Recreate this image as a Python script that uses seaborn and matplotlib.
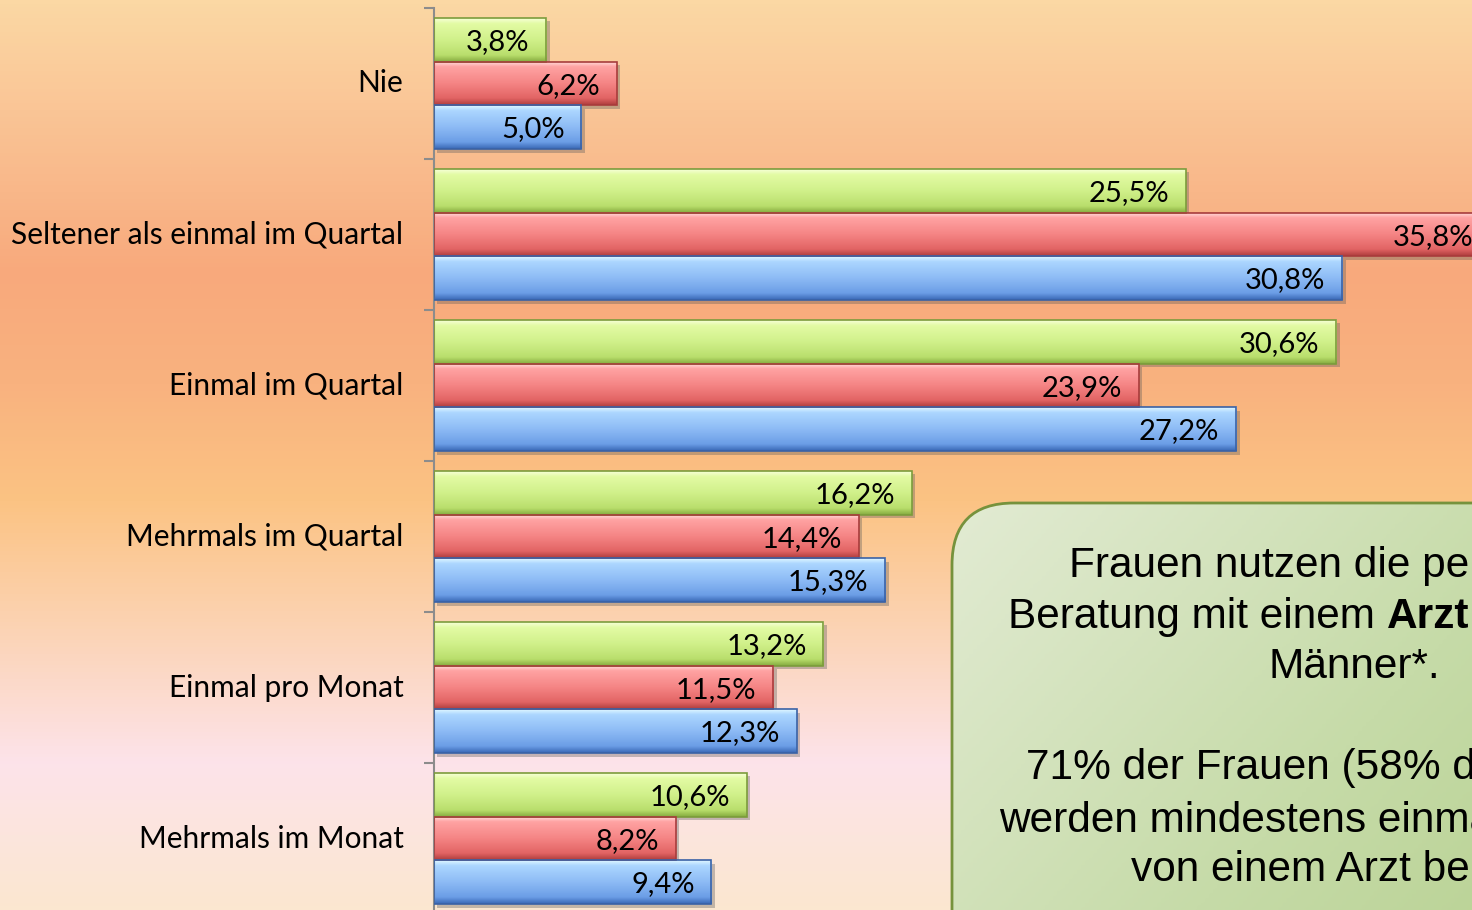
import numpy as np
import pandas as pd
import seaborn as sns
import matplotlib.pyplot as plt
import matplotlib.patheffects as pe
from matplotlib.colors import LinearSegmentedColormap
from matplotlib.patches import FancyBboxPatch, Rectangle

# data (percent)
categories = ["Nie", "Seltener als einmal im Quartal", "Einmal im Quartal",
              "Mehrmals im Quartal", "Einmal pro Monat", "Mehrmals im Monat"]
groups = ["Frauen", "Männer", "Gesamt"]
frauen = [3.8, 25.5, 30.6, 16.2, 13.2, 10.6]
maenner = [6.2, 35.8, 23.9, 14.4, 11.5, 8.2]
gesamt = [5.0, 30.8, 27.2, 15.3, 12.3, 9.4]

df = pd.DataFrame({
    "Kategorie": categories * 3,
    "Gruppe": np.repeat(groups, len(categories)),
    "Wert": frauen + maenner + gesamt,
})

base_colors = {"Frauen": "#cdee84", "Männer": "#f48383", "Gesamt": "#8cbcf6"}
bar_grads = {
    "Frauen": ["#f6ffd6", "#e3fba4", "#d0f08a", "#b9de6c", "#86ac40"],
    "Männer": ["#ffe0e0", "#ffa3a3", "#f58585", "#e26464", "#b03e3e"],
    "Gesamt": ["#dff7ff", "#acd6ff", "#8dbbf5", "#6b9de6", "#3a69b6"],
}
edge_colors = {"Frauen": "#7c9c3c", "Männer": "#a83c3c", "Gesamt": "#3a62a6"}

sns.set_theme(style="white")
plt.rcParams["font.family"] = ["Lato", "DejaVu Sans"]

W, H = 1472, 910
fig = plt.figure(figsize=(W / 100, H / 100), dpi=100)

# background gradient
bg = fig.add_axes([0, 0, 1, 1], zorder=0)
bg_cmap = LinearSegmentedColormap.from_list("bg", [
    (0.0, "#fbd8a4"), (0.12, "#fac596"), (0.3, "#f8a97c"), (0.42, "#f9b27f"),
    (0.55, "#fbc383"), (0.68, "#fbd2b0"), (0.84, "#fde3ea"), (1.0, "#fbe7d0")])
bg.imshow(np.linspace(0, 1, 256)[:, None], aspect="auto", cmap=bg_cmap,
          extent=[0, 1, 0, 1], origin="upper")
bg.set_axis_off()

ax = fig.add_axes([434 / W, -4 / H, 1038 / W, 906 / H], zorder=1)
ax.set_facecolor("none")
sns.barplot(data=df, y="Kategorie", x="Wert", hue="Gruppe", order=categories,
            hue_order=groups, palette=base_colors, width=0.87, orient="h",
            legend=False, ax=ax, errorbar=None)

for cont, g in zip(ax.containers, groups):
    cmap = LinearSegmentedColormap.from_list(g, list(zip([0, 0.12, 0.5, 0.85, 1.0], bar_grads[g])))
    for patch, v in zip(cont, df.loc[df["Gruppe"] == g, "Wert"]):
        x0, y0, w, h = patch.get_x(), patch.get_y(), patch.get_width(), patch.get_height()
        patch.set_edgecolor("none")
        patch.set_zorder(1)
        patch.set_path_effects([pe.SimplePatchShadow(offset=(2.5, -2.5), shadow_rgbFace="0.35", alpha=0.35),
                                pe.Normal()])
        im = ax.imshow(np.linspace(0, 1, 64)[:, None], cmap=cmap, aspect="auto",
                       extent=[x0, x0 + w, y0 + h, y0], origin="upper", zorder=2)
        im.set_clip_path(patch)
        ax.add_patch(Rectangle((x0, y0), w, h, facecolor="none",
                               edgecolor=edge_colors[g], lw=1.2, zorder=3))
        ax.annotate(f"{v:.1f}".replace(".", ",") + "%", xy=(x0 + w, y0 + h / 2),
                    xytext=(-12, -1.5), textcoords="offset points", ha="right",
                    va="center", fontsize=21, color="black", zorder=4,
                    annotation_clip=False)

ax.set_xlim(0, 1038 / 29.49)
ax.set_ylim(len(categories) - 0.5, -0.5)
ax.set_xlabel("")
ax.set_ylabel("")
ax.set_xticks([])
ax.set_yticks(range(len(categories)))
ax.set_yticklabels(categories, fontsize=21.5, color="black", va="center")
ax.set_yticks(np.arange(-0.5, len(categories), 1), minor=True)
ax.tick_params(axis="y", which="major", length=0, pad=22)
ax.tick_params(axis="y", which="minor", length=7, width=1.5, color="#8c8c8c", left=True)
for s in ["top", "right", "bottom"]:
    ax.spines[s].set_visible(False)
ax.spines["left"].set_color("#8c8c8c")
ax.spines["left"].set_linewidth(1.5)

# text box overlay in pixel coordinates
ov = fig.add_axes([0, 0, 1, 1], zorder=3)
ov.set_xlim(0, W)
ov.set_ylim(H, 0)
ov.set_axis_off()
ov.patch.set_alpha(0)
box = FancyBboxPatch((952, 503), 804, 470, boxstyle="round,pad=0,rounding_size=62",
                     facecolor="none", edgecolor="#76923c", lw=2, zorder=3)
ov.add_patch(box)
gx, gy = np.meshgrid(np.linspace(0, 1, 200), np.linspace(0, 1, 200))
box_cmap = LinearSegmentedColormap.from_list("box", ["#e2ebd3", "#c6dba8", "#b0cc86"])
gim = ov.imshow(0.65 * gx + 0.35 * gy, cmap=box_cmap, aspect="auto",
                extent=[952, 1756, 973, 503], origin="upper", zorder=2)
gim.set_clip_path(box)
ov.set_xlim(0, W)
ov.set_ylim(H, 0)

tfont = dict(family=["Liberation Sans", "DejaVu Sans"], fontsize=30.5, color="black")
cx = 1354
ov.text(cx, 577, "Frauen nutzen die persönliche", ha="center", va="baseline", **tfont)
ov.text(cx, 678, "Männer*.", ha="center", va="baseline", **tfont)
ov.text(cx, 779, "71% der Frauen (58% der Männer)", ha="center", va="baseline", **tfont)
ov.text(cx, 831, "werden mindestens einmal im Quartal", ha="center", va="baseline", **tfont)
ov.text(cx, 881, "von einem Arzt beraten.", ha="center", va="baseline", **tfont)

# second line with bold word, assembled from pieces
pieces = [("Beratung mit einem ", "normal"), ("Arzt", "bold"), (" häufiger als", "normal")]
renderer = fig.canvas.get_renderer()
texts = [ov.text(0, 628, s, ha="left", va="baseline", fontweight=fw, **tfont) for s, fw in pieces]
widths = []
inv = ov.transData.inverted()
for t in texts:
    bb = t.get_window_extent(renderer=renderer)
    p0 = inv.transform((bb.x0, bb.y0))
    p1 = inv.transform((bb.x1, bb.y0))
    widths.append(p1[0] - p0[0])
xpos = cx - sum(widths) / 2
for t, w in zip(texts, widths):
    t.set_x(xpos)
    xpos += w

fig.savefig("out.png", dpi=100)
